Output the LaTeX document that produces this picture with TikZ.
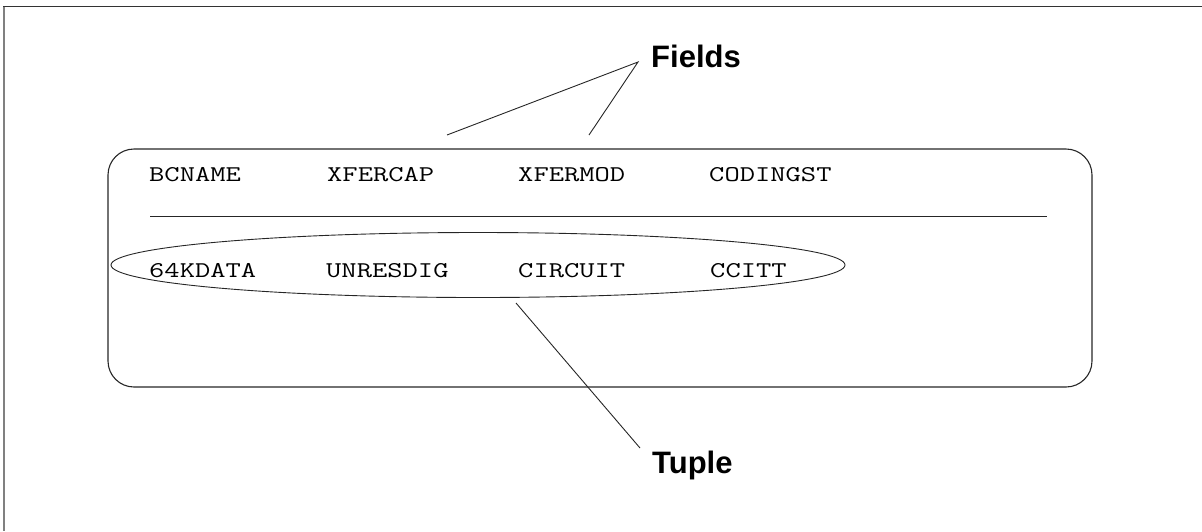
\documentclass[tikz,border=0pt]{standalone}
\usepackage{fontspec}
\usepackage{graphicx}
\setmainfont{Liberation Sans}
\newcommand{\wideMono}[1]{\scalebox{1.32}[1]{#1}}
\usetikzlibrary{shapes.geometric}
\begin{document}
\begin{tikzpicture}[x=1pt,y=-1pt,
  fieldtext/.style={anchor=base west,inner sep=0pt,font=\ttfamily\fontsize{22.5}{26}\selectfont},
  labeltext/.style={anchor=base west,inner sep=0pt,font=\fontsize{31}{34}\selectfont\bfseries},
  thinline/.style={line width=0.9pt,black!85}]
\useasboundingbox (0,0) rectangle (1202,531);
% outer frame (top and left only)
\draw[line width=1.4pt,black!80] (3,6.5) -- (1202,6.5);
\draw[line width=2pt,black!50] (4,6.5) -- (4,531);
% table box
\node[draw,line width=1.1pt,black!85,rounded corners=26pt,minimum width=984pt,minimum height=238pt,inner sep=0pt] (table) at (600,268) {};
% header row
\node[fieldtext] (bcname) at (149,181) {\wideMono{BCNAME}};
\node[fieldtext] (xfercap) at (327,181) {\wideMono{XFERCAP}};
\node[fieldtext] (xfermod) at (518,181) {\wideMono{XFERMOD}};
\node[fieldtext] (codingst) at (709,181) {\wideMono{CODINGST}};
% rule
\coordinate (ruleL) at (150,216);
\coordinate (ruleR) at (1047,216);
\draw[line width=1pt,black!85] (ruleL) -- (ruleR);
% data row
\node[fieldtext] (d1) at (149,277) {\wideMono{64KDATA}};
\node[fieldtext] (d2) at (326,277) {\wideMono{UNRESDIG}};
\node[fieldtext] (d3) at (518,277) {\wideMono{CIRCUIT}};
\node[fieldtext] (d4) at (710,277) {\wideMono{CCITT}};
% tuple ellipse
\node[draw,thinline,ellipse,minimum width=734pt,minimum height=65pt,inner sep=0pt] (tupleell) at (478,265) {};
% labels
\node[labeltext] (fields) at (651,67) {Fields};
\node[labeltext] (tuple) at (652,473) {Tuple};
% leader lines
\coordinate (fapex) at (638,62);
\coordinate (f1) at (447,135);
\coordinate (f2) at (589,135);
\draw[thinline] (f1) -- (fapex) -- (f2);
\coordinate (t1) at (516,303);
\coordinate (t2) at (640,448);
\draw[thinline] (t1) -- (t2);
\end{tikzpicture}
\end{document}
